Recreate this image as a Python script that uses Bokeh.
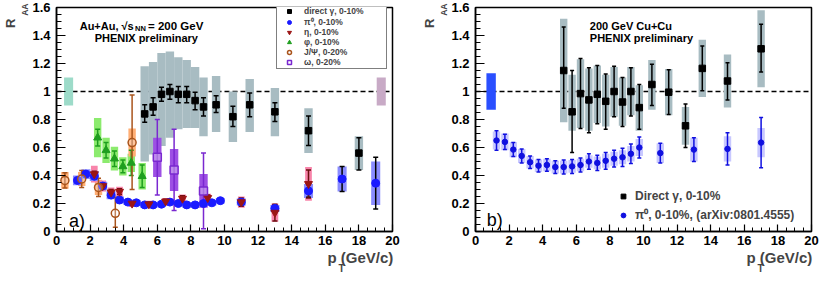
import math
from bokeh.plotting import figure
from bokeh.models import FixedTicker, Label, Legend, LegendItem, Span, Title
from bokeh.layouts import row
from bokeh.embed import file_html
from bokeh.resources import INLINE

FONT = "Liberation Sans"

# ---------------- axes ----------------
x_ticks = [0, 2, 4, 6, 8, 10, 12, 14, 16, 18, 20]
x_tick_labels = ["0", "2", "4", "6", "8", "10", "12", "14", "16", "18", "20"]
y_ticks = [0, 0.2, 0.4, 0.6, 0.8, 1, 1.2, 1.4, 1.6]
y_tick_labels = ["0", "0.2", "0.4", "0.6", "0.8", "1", "1.2", "1.4", "1.6"]

# ---------------- Au+Au (panel a) ----------------
au_gamma_pt = [5.25, 5.75, 6.25, 6.75, 7.25, 7.75, 8.25, 8.75, 9.5, 10.5, 11.5, 13, 15, 18]
au_gamma_raa = [0.84, 0.89, 0.98, 1.00, 0.98, 0.98, 0.935, 0.89, 0.905, 0.82, 0.905, 0.855, 0.72, 0.56]
au_gamma_stat_lo = [0.78, 0.83, 0.93, 0.945, 0.92, 0.92, 0.87, 0.825, 0.85, 0.75, 0.82, 0.785, 0.615, 0.44]
au_gamma_stat_hi = [0.905, 0.955, 1.03, 1.05, 1.035, 1.035, 0.995, 0.955, 0.97, 0.895, 0.99, 0.92, 0.825, 0.67]
au_gamma_sys_lo = [0.50, 0.55, 0.61, 0.67, 0.73, 0.74, 0.74, 0.68, 0.71, 0.64, 0.71, 0.68, 0.56, 0.44]
au_gamma_sys_hi = [1.18, 1.21, 1.275, 1.285, 1.245, 1.225, 1.175, 1.10, 1.11, 1.00, 1.09, 1.025, 0.88, 0.68]

au_pi0_pt = [1.25, 1.75, 2.25, 2.75, 3.25, 3.75, 4.25, 4.75, 5.25, 5.75, 6.25, 6.75, 7.25, 7.75,
             8.25, 8.75, 9.25, 9.75, 11, 13, 15, 17, 19]
au_pi0_raa = [0.365, 0.41, 0.395, 0.325, 0.26, 0.225, 0.21, 0.205, 0.19, 0.19, 0.195, 0.21, 0.20, 0.19,
              0.19, 0.20, 0.205, 0.22, 0.21, 0.165, 0.29, 0.375, 0.345]
au_pi0_stat = [0.01, 0.01, 0.01, 0.01, 0.01, 0.01, 0.01, 0.01, 0.01, 0.01, 0.01, 0.01, 0.01, 0.01,
               0.01, 0.01, 0.012, 0.012, 0.02, 0.025, 0.045, 0.09, 0.185]
au_pi0_sys = [0.035, 0.035, 0.035, 0.03, 0.03, 0.025, 0.02, 0.02, 0.02, 0.02, 0.02, 0.02, 0.02, 0.02,
              0.02, 0.02, 0.02, 0.02, 0.025, 0.025, 0.05, 0.09, 0.155]

au_eta_pt = [2.25, 2.75, 3.25, 3.75, 4.5, 5.5, 6.5, 7.5, 9.0, 11, 13, 15]
au_eta_raa = [0.41, 0.325, 0.28, 0.285, 0.20, 0.195, 0.215, 0.235, 0.24, 0.21, 0.135, 0.34]
au_eta_stat = [0.02, 0.02, 0.02, 0.02, 0.015, 0.015, 0.015, 0.02, 0.02, 0.03, 0.06, 0.10]
au_eta_sys = [0.06, 0.04, 0.035, 0.035, 0.025, 0.025, 0.025, 0.03, 0.03, 0.04, 0.065, 0.12]

au_phi_pt = [2.45, 2.95, 3.45, 3.95, 4.45, 5.1]
au_phi_raa = [0.67, 0.58, 0.52, 0.465, 0.49, 0.395]
au_phi_stat = [0.06, 0.055, 0.055, 0.045, 0.09, 0.08]
au_phi_sys = [0.14, 0.09, 0.085, 0.065, 0.065, 0.095]

au_jpsi_pt = [0.5, 1.5, 2.5, 3.5, 4.5]
au_jpsi_raa = [0.365, 0.375, 0.315, 0.13, 0.635]
au_jpsi_stat_lo = [0.31, 0.315, 0.25, 0.03, 0.30]
au_jpsi_stat_hi = [0.42, 0.435, 0.38, 0.245, 0.975]
au_jpsi_sys = [0.06, 0.05, 0.055, 0.0, 0.10]

au_omega_pt = [6.0, 7.0, 8.75]
au_omega_raa = [0.53, 0.44, 0.29]
au_omega_stat = [0.27, 0.29, 0.27]
au_omega_sys = [0.14, 0.15, 0.12]

au_norm_pt = [0.72, 19.33]
au_norm_err = [0.10, 0.10]

au_legend_labels = ["direct \u03b3, 0-10%", "\u03c0\u2070, 0-10%", "\u03b7, 0-10%",
                    "\u03c6, 0-10%", "J/\u03a8, 0-20%", "\u03c9, 0-20%"]

# ---------------- Cu+Cu (panel b) ----------------
cu_pi0_pt = [1.25, 1.75, 2.25, 2.75, 3.25, 3.75, 4.25, 4.75, 5.25, 5.75, 6.25, 6.75, 7.25, 7.75,
             8.25, 8.75, 9.25, 9.75, 11, 13, 15, 17]
cu_pi0_raa = [0.65, 0.64, 0.585, 0.54, 0.495, 0.47, 0.475, 0.46, 0.46, 0.465, 0.475, 0.50, 0.49, 0.505,
              0.52, 0.53, 0.555, 0.60, 0.56, 0.585, 0.59, 0.635]
cu_pi0_stat = [0.07, 0.055, 0.05, 0.05, 0.045, 0.045, 0.045, 0.045, 0.05, 0.05, 0.05, 0.055, 0.055, 0.06,
               0.06, 0.065, 0.07, 0.075, 0.07, 0.085, 0.115, 0.18]
cu_pi0_sys = [0.065, 0.06, 0.055, 0.05, 0.045, 0.045, 0.045, 0.045, 0.045, 0.045, 0.045, 0.045, 0.045, 0.05,
              0.05, 0.05, 0.055, 0.06, 0.07, 0.085, 0.09, 0.105]

cu_gamma_pt = [5.25, 5.75, 6.25, 6.75, 7.25, 7.75, 8.25, 8.75, 9.25, 9.75, 10.5, 11.5, 12.5, 13.5, 15, 17]
cu_gamma_raa = [1.15, 0.855, 0.985, 0.94, 0.98, 0.93, 1.0, 0.925, 1.0, 0.885, 1.05, 0.995, 0.755, 1.165, 1.075, 1.305]
cu_gamma_stat_lo = [0.88, 0.565, 0.735, 0.705, 0.77, 0.73, 0.82, 0.75, 0.825, 0.73, 0.90, 0.835, 0.60, 1.005, 0.94, 1.14]
cu_gamma_stat_hi = [1.46, 1.15, 1.235, 1.17, 1.185, 1.125, 1.18, 1.10, 1.17, 1.05, 1.195, 1.155, 0.91, 1.325, 1.205, 1.48]
cu_gamma_sys_lo = [0.78, 0.72, 0.74, 0.72, 0.775, 0.75, 0.82, 0.755, 0.83, 0.72, 0.87, 0.83, 0.62, 0.96, 0.885, 1.03]
cu_gamma_sys_hi = [1.52, 1.12, 1.23, 1.165, 1.185, 1.12, 1.175, 1.10, 1.175, 1.045, 1.225, 1.16, 0.89, 1.37, 1.265, 1.58]

cu_norm_pt = [0.93]
cu_norm_err = [0.13]

cu_legend_labels = ["Direct \u03b3, 0-10%", "\u03c0\u2070, 0-10%, (arXiv:0801.4555)"]

# ---------------- layout constants ----------------
FRAME_W = 336
FRAME_H = 224
TOP = 7
BOTTOM = 44

X_MINOR = [0.5 * i for i in range(41)]
Y_MINOR = [0.05 * i for i in range(33)]


def make_fig(border_left, border_right):
    p = figure(x_range=(0, 20), y_range=(0, 1.6), frame_width=FRAME_W, frame_height=FRAME_H,
               min_border_left=border_left, min_border_right=border_right,
               min_border_top=TOP, min_border_bottom=BOTTOM,
               output_backend="svg", toolbar_location=None,
               background_fill_color="white", border_fill_color="white")
    p.xgrid.visible = False
    p.ygrid.visible = False
    p.outline_line_color = "black"
    p.outline_line_width = 1.5
    p.outline_line_alpha = 1.0
    p.xaxis.ticker = FixedTicker(ticks=x_ticks, minor_ticks=X_MINOR)
    p.yaxis.ticker = FixedTicker(ticks=y_ticks, minor_ticks=Y_MINOR)
    p.xaxis.major_label_overrides = dict(zip(x_ticks, x_tick_labels))
    p.yaxis.major_label_overrides = dict(zip(y_ticks, y_tick_labels))
    for ax in (p.xaxis[0], p.yaxis[0]):
        ax.axis_line_width = 1.5
        ax.axis_line_color = "black"
        ax.major_tick_out = 0
        ax.minor_tick_out = 0
        ax.major_tick_line_width = 1.2
        ax.minor_tick_line_width = 1.0
        ax.major_label_text_font = FONT
        ax.major_label_text_font_size = "13px"
        ax.major_label_text_font_style = "bold"
        ax.major_label_text_color = "black"
    p.xaxis.major_tick_in = 7
    p.xaxis.minor_tick_in = 4
    p.yaxis.major_tick_in = 9
    p.yaxis.minor_tick_in = 5
    p.xaxis.major_label_standoff = 4
    p.yaxis.major_label_standoff = 6
    span = Span(location=1, dimension="width", line_color="black", line_width=1.3,
                line_dash="5 3", level="underlay")
    p.add_layout(span)
    # axis titles: R_AA (rotated, top of y axis) and p_T (GeV/c) (right end of x axis)
    p.add_layout(Title(text="AA", align="right", offset=-4, standoff=0, text_font=FONT,
                       text_font_size="8.5px", text_font_style="bold"), "left")
    p.add_layout(Title(text="R", align="right", offset=11, standoff=0, text_font=FONT,
                       text_font_size="13px", text_font_style="bold"), "left")
    p.add_layout(Title(text="p  (GeV/c)", align="right", offset=-5, standoff=-1, text_font=FONT,
                       text_font_size="15px", text_font_style="bold"), "below")
    p.add_layout(Title(text="T", align="right", offset=48, standoff=-10, text_font=FONT,
                       text_font_size="10px", text_font_style="bold"), "below")
    return p


def sysboxes(p, x, lo, hi, hw, color):
    p.quad(left=[v - hw for v in x], right=[v + hw for v in x], bottom=lo, top=hi,
           fill_color=color, line_color=None)


def errbars(p, x, lo, hi, color, width=1.5, cap=5):
    p.segment(x0=x, y0=lo, x1=x, y1=hi, line_color=color, line_width=width)
    p.scatter(x=x, y=lo, marker="dash", size=cap, line_color=color, line_width=width)
    p.scatter(x=x, y=hi, marker="dash", size=cap, line_color=color, line_width=width)


def minus(a, b):
    return [u - v for u, v in zip(a, b)]


def plus(a, b):
    return [u + v for u, v in zip(a, b)]


def add_label(p, xy, text, size, bold=True, align="left"):
    p.add_layout(Label(x=xy[0], y=xy[1], text=text, text_font=FONT, text_font_size=size,
                       text_font_style="bold" if bold else "normal", text_color="black",
                       text_align=align, text_baseline="alphabetic"))


# reference-pixel -> data (texts inside the frame follow the data scale)
def ref_left(X, Y):
    return (X - 58.5) / 16.8, (244 - Y) / 148.0


def ref_right(X, Y):
    return (X - 477.7) / 16.8, (244 - Y) / 148.0


# ================= panel a =================
p1 = make_fig(51, 25)

GRAY = "#a8bcc2"
sysboxes(p1, au_gamma_pt, au_gamma_sys_lo, au_gamma_sys_hi, 0.25, GRAY)
sysboxes(p1, au_norm_pt[:1], minus([1.0], au_norm_err[:1]), plus([1.0], au_norm_err[:1]), 0.27, "#9ddbc9")
sysboxes(p1, au_norm_pt[1:], minus([1.0], au_norm_err[1:]), plus([1.0], au_norm_err[1:]), 0.27, "#c8aac6")
sysboxes(p1, au_phi_pt, minus(au_phi_raa, au_phi_sys), plus(au_phi_raa, au_phi_sys), 0.22, "#8ceb6e")
sysboxes(p1, au_jpsi_pt, minus(au_jpsi_raa, au_jpsi_sys), plus(au_jpsi_raa, au_jpsi_sys), 0.22, "#ffae74")
sysboxes(p1, au_eta_pt, minus(au_eta_raa, au_eta_sys), plus(au_eta_raa, au_eta_sys), 0.2, "#f884aa")
sysboxes(p1, au_pi0_pt, minus(au_pi0_raa, au_pi0_sys), plus(au_pi0_raa, au_pi0_sys), 0.27, "#8a8cff")
sysboxes(p1, au_omega_pt, minus(au_omega_raa, au_omega_sys), plus(au_omega_raa, au_omega_sys), 0.25, "#9d4fe4")

errbars(p1, au_gamma_pt, au_gamma_stat_lo, au_gamma_stat_hi, "black")
errbars(p1, au_pi0_pt, minus(au_pi0_raa, au_pi0_stat), plus(au_pi0_raa, au_pi0_stat), "black")
errbars(p1, au_eta_pt, minus(au_eta_raa, au_eta_stat), plus(au_eta_raa, au_eta_stat), "#6a1010")
errbars(p1, au_phi_pt, minus(au_phi_raa, au_phi_stat), plus(au_phi_raa, au_phi_stat), "#1e9e1e")
errbars(p1, au_jpsi_pt, au_jpsi_stat_lo, au_jpsi_stat_hi, "#a9541c")
errbars(p1, au_omega_pt, minus(au_omega_raa, au_omega_stat), plus(au_omega_raa, au_omega_stat), "#7a28d0")

r_gam = p1.scatter(au_gamma_pt, au_gamma_raa, marker="square", size=6.5, color="black")
r_pi = p1.scatter(au_pi0_pt, au_pi0_raa, marker="circle", size=8, color="#1a1aff")
r_eta = p1.scatter(au_eta_pt, au_eta_raa, marker="inverted_triangle", size=8, color="#9b1515")
r_phi = p1.scatter(au_phi_pt, au_phi_raa, marker="triangle", size=8, color="#1e9e1e")
r_jpsi = p1.scatter(au_jpsi_pt, au_jpsi_raa, marker="circle", size=8, fill_color="white", fill_alpha=0.3,
                    line_color="#a9541c", line_width=1.5)
r_om = p1.scatter(au_omega_pt, au_omega_raa, marker="square", size=8, fill_color="white", fill_alpha=0.35,
                  line_color="#7a28d0", line_width=1.5)

leg1 = Legend(items=[LegendItem(label=t, renderers=[r]) for t, r in
                     zip(au_legend_labels, [r_gam, r_pi, r_eta, r_phi, r_jpsi, r_om])],
              location=(220, FRAME_H - 62), orientation="vertical")
leg1.margin = 0
leg1.padding = 1
leg1.spacing = 0
leg1.glyph_height = 10
leg1.glyph_width = 22
leg1.label_height = 10
leg1.label_standoff = 4
leg1.label_width = 81
leg1.label_text_font = FONT
leg1.label_text_font_size = "8.5px"
leg1.label_text_font_style = "bold"
leg1.label_text_baseline = "middle"
leg1.border_line_color = "black"
leg1.border_line_width = 1.5
leg1.background_fill_color = "white"
leg1.background_fill_alpha = 1.0
p1.add_layout(leg1, "center")

# texts panel a
add_label(p1, ref_left(81.7, 26.5), "Au+Au, \u221as", "11px")
add_label(p1, ref_left(137, 29), "NN", "7.5px")
add_label(p1, ref_left(150, 26.5), "= 200 GeV", "11.5px")
add_label(p1, ref_left(148.3, 39.5), "PHENIX preliminary", "11px", align="center")
add_label(p1, ref_left(71, 233), "a)", "18px", bold=False)

# ================= panel b =================
p2 = make_fig(58, 9)

sysboxes(p2, cu_norm_pt, minus([1.0], cu_norm_err), plus([1.0], cu_norm_err), 0.28, "#2a4fff")
sysboxes(p2, cu_pi0_pt, minus(cu_pi0_raa, cu_pi0_sys), plus(cu_pi0_raa, cu_pi0_sys), 0.22, "#c8c8ff")
sysboxes(p2, cu_gamma_pt, cu_gamma_sys_lo, cu_gamma_sys_hi, 0.22, GRAY)

errbars(p2, cu_pi0_pt, minus(cu_pi0_raa, cu_pi0_stat), plus(cu_pi0_raa, cu_pi0_stat), "#1010e0", cap=4)
errbars(p2, cu_gamma_pt, cu_gamma_stat_lo, cu_gamma_stat_hi, "black", cap=4)

r_gam2 = p2.scatter(cu_gamma_pt, cu_gamma_raa, marker="square", size=6.5, color="black")
r_pi2 = p2.scatter(cu_pi0_pt, cu_pi0_raa, marker="circle", size=5.5, color="#1010e0")

leg2 = Legend(items=[LegendItem(label=t, renderers=[r]) for t, r in
                     zip(cu_legend_labels, [r_gam2, r_pi2])],
              location=(142, 8), orientation="vertical")
leg2.margin = 0
leg2.padding = 0
leg2.spacing = 2
leg2.glyph_height = 16
leg2.glyph_width = 12
leg2.label_height = 16
leg2.label_standoff = 6
leg2.label_text_font = FONT
leg2.label_text_font_size = "12px"
leg2.label_text_font_style = "bold"
leg2.border_line_alpha = 0
leg2.background_fill_alpha = 0
p2.add_layout(leg2, "center")

add_label(p2, ref_right(592, 27), "200 GeV  Cu+Cu", "11px")
add_label(p2, ref_right(592, 39.5), "PHENIX preliminary", "11px")
add_label(p2, ref_right(489, 232), "b)", "18px", bold=False)

layout = row(p1, p2)
open("out.html", "w").write(file_html(layout, INLINE))
